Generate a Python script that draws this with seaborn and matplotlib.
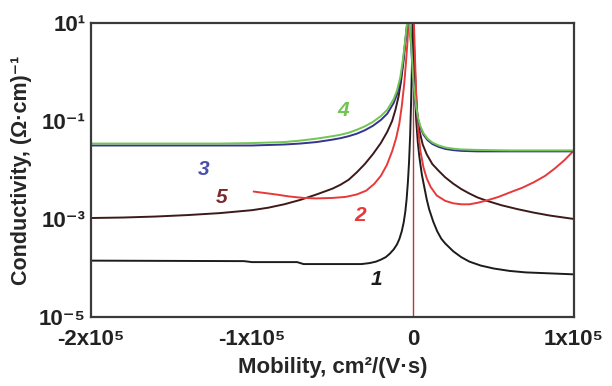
import numpy as np
import pandas as pd
import matplotlib
matplotlib.use("Agg")
import matplotlib.pyplot as plt
import matplotlib.ticker as mticker
import seaborn as sns

# mobility in units of 1e5 cm^2/(V s), conductivity as log10 exponent
mu_1 = [-2.0, -1.05, -1.0, -0.72, -0.68, -0.32, -0.27, -0.23, -0.2, -0.17, -0.145, -0.12, -0.1,
        -0.085, -0.07, -0.058, -0.048, -0.04, -0.032, -0.025, -0.018, -0.012, -0.007, -0.003,
        0.0, 0.006, 0.012, 0.02, 0.03, 0.04, 0.055, 0.07, 0.085, 0.1, 0.125, 0.15, 0.175, 0.2,
        0.25, 0.3, 0.35, 0.42, 0.5, 0.6, 0.7, 0.85, 1.0]
lg_1 = [-3.85, -3.86, -3.88, -3.88, -3.92, -3.92, -3.9, -3.87, -3.83, -3.78, -3.71, -3.62, -3.52,
        -3.41, -3.25, -3.07, -2.85, -2.6, -2.25, -1.85, -1.3, -0.6, 0.1, 1.05,
        1.05, 0.3, -0.4, -1.0, -1.45, -1.75, -2.1, -2.35, -2.6, -2.8, -3.05, -3.25, -3.4, -3.5,
        -3.66, -3.78, -3.87, -3.95, -4.01, -4.06, -4.09, -4.11, -4.13]

mu_2 = [-0.99, -0.92, -0.85, -0.77, -0.68, -0.6, -0.5, -0.42, -0.35, -0.29, -0.24, -0.2, -0.163,
        -0.13, -0.105, -0.085, -0.07, -0.055, -0.045, -0.035, -0.028,
        0.005, 0.012, 0.02, 0.03, 0.045, 0.065, 0.085, 0.11, 0.147, 0.2, 0.25, 0.3, 0.35, 0.4,
        0.46, 0.53, 0.6, 0.68, 0.75, 0.82, 0.88, 0.94, 1.0]
lg_2 = [-2.44, -2.47, -2.5, -2.54, -2.57, -2.58, -2.57, -2.55, -2.5, -2.42, -2.28, -2.12, -1.9,
        -1.62, -1.35, -1.05, -0.7, -0.25, 0.15, 0.6, 1.05,
        1.05, 0.3, -0.5, -1.1, -1.6, -1.95, -2.17, -2.35, -2.52, -2.63, -2.68, -2.7, -2.7, -2.67,
        -2.62, -2.55, -2.46, -2.36, -2.25, -2.12, -1.97, -1.8, -1.6]

mu_3 = [-2.0, -1.2, -1.0, -0.9, -0.8, -0.7, -0.6, -0.5, -0.45, -0.4, -0.35, -0.3, -0.25, -0.2,
        -0.16, -0.12, -0.1, -0.08, -0.065, -0.052, -0.042, -0.035, -0.025, -0.012, 0.0, 0.01,
        0.02, 0.03, 0.045, 0.065, 0.09, 0.12, 0.16, 0.2, 0.25, 0.3, 0.4, 0.6, 1.0]
lg_3 = [-1.5, -1.5, -1.5, -1.49, -1.48, -1.46, -1.43, -1.38, -1.35, -1.31, -1.26, -1.19, -1.1, -0.98,
        -0.85, -0.63, -0.46, -0.2, 0.12, 0.5, 0.82, 1.05, 1.05, 0.55, -0.15, -0.5,
        -0.77, -0.96, -1.13, -1.28, -1.39, -1.47, -1.53, -1.57, -1.595, -1.61, -1.62, -1.62, -1.62]

mu_4 = [-2.0, -1.2, -1.0, -0.9, -0.8, -0.7, -0.6, -0.5, -0.45, -0.4, -0.35, -0.3, -0.25, -0.2,
        -0.16, -0.12, -0.1, -0.08, -0.065, -0.052, -0.042, -0.035, -0.025, -0.012, 0.0, 0.01,
        0.02, 0.03, 0.045, 0.065, 0.09, 0.12, 0.16, 0.2, 0.25, 0.3, 0.4, 0.6, 1.0]
lg_4 = [-1.46, -1.46, -1.45, -1.44, -1.43, -1.4, -1.36, -1.31, -1.28, -1.24, -1.18, -1.11, -1.02, -0.9,
        -0.77, -0.55, -0.38, -0.12, 0.2, 0.55, 0.85, 1.05, 1.05, 0.6, -0.1, -0.45,
        -0.72, -0.92, -1.1, -1.25, -1.36, -1.44, -1.5, -1.54, -1.565, -1.58, -1.59, -1.6, -1.6]

mu_5 = [-2.0, -1.8, -1.6, -1.4, -1.2, -1.1, -1.0, -0.9, -0.8, -0.7, -0.6, -0.5, -0.45, -0.4, -0.35,
        -0.3, -0.25, -0.2, -0.16, -0.13, -0.11, -0.09, -0.075, -0.06, -0.05, -0.04, -0.032,
        0.0, 0.008, 0.016, 0.025, 0.04, 0.06, 0.085, 0.12, 0.16, 0.2, 0.25, 0.3, 0.35, 0.4,
        0.46, 0.55, 0.65, 0.75, 0.85, 1.0]
lg_5 = [-2.98, -2.97, -2.95, -2.92, -2.88, -2.85, -2.82, -2.77, -2.7, -2.61, -2.5, -2.38, -2.3, -2.2, -2.05,
        -1.88, -1.68, -1.45, -1.22, -1.0, -0.78, -0.5, -0.2, 0.2, 0.55, 0.85, 1.05,
        1.05, 0.4, -0.3, -0.8, -1.2, -1.48, -1.68, -1.88, -2.02, -2.15, -2.28, -2.39, -2.48, -2.56,
        -2.63, -2.72, -2.8, -2.87, -2.93, -3.0]

curve_ids = ["1", "2", "3", "4", "5"]
curve_colors = ["#1c1c1c", "#e8393a", "#34358f", "#72c453", "#3c1a1a"]
label_colors = ["#1c1c1c", "#e8393a", "#4a4fae", "#72c453", "#7a2a2a"]
# label anchor points (mobility 1e5, log10 conductivity)
label_mu = [-0.226, -0.33, -1.3, -0.435, -1.19]
label_lg = [-4.24, -2.92, -2.0, -0.78, -2.57]

x_ticks = [-2e5, -1e5, 0, 1e5]
x_tick_labels = ["-2x10⁵", "-1x10⁵", "0", "1x10⁵"]
y_tick_labels = {1: "10¹", -1: "10⁻¹", -3: "10⁻³", -5: "10⁻⁵"}

sns.set_style("white")
plt.rcParams["font.family"] = ["Liberation Sans", "DejaVu Sans"]
plt.rcParams["font.weight"] = "bold"

frames = []
for cid, mu, lg in zip(curve_ids, [mu_1, mu_2, mu_3, mu_4, mu_5], [lg_1, lg_2, lg_3, lg_4, lg_5]):
    frames.append(pd.DataFrame({"curve": cid, "mobility": np.array(mu) * 1e5,
                                "sigma": 10.0 ** np.array(lg)}))
df = pd.concat(frames, ignore_index=True)

fig = plt.figure(figsize=(6.12, 3.86), dpi=100)
ax = fig.add_axes([0.1487, 0.1788, 0.7893, 0.7616])

ax.axvline(0, color="#b43a3a", lw=1.0, zorder=1)
draw_order = ["1", "5", "2", "3", "4"]
for cid in draw_order:
    sub = df[df.curve == cid]
    sns.lineplot(data=sub, x="mobility", y="sigma", ax=ax, color=curve_colors[curve_ids.index(cid)],
                 lw=1.4, sort=False, estimator=None, legend=False)

ax.set_yscale("log")
ax.set_xlim(-2e5, 1e5)
ax.set_ylim(1e-5, 1e1)

ax.set_xticks(x_ticks)
ax.set_xticklabels(x_tick_labels)
ax.xaxis.set_minor_locator(mticker.MultipleLocator(1e4))
ax.yaxis.set_major_locator(mticker.LogLocator(base=10, numticks=10))
ax.yaxis.set_minor_locator(mticker.LogLocator(base=10, subs=np.arange(2, 10), numticks=20))
ax.yaxis.set_major_formatter(mticker.FuncFormatter(
    lambda v, p: y_tick_labels.get(int(round(np.log10(v))), "")))
ax.yaxis.set_minor_formatter(mticker.NullFormatter())
ax.tick_params(which="both", direction="in", top=False, right=False, colors="#333333",
               labelcolor="#222222", labelsize=16)
ax.tick_params(axis="x", which="major", pad=9)
ax.tick_params(axis="y", which="major", pad=4)
ax.tick_params(which="major", length=7, width=1.2)
ax.tick_params(which="minor", length=4, width=1.0)

for s in ax.spines.values():
    s.set_color("#3a3a3a")
    s.set_linewidth(1.6)

ax.set_xlabel("Mobility, cm²/(V·s)", fontsize=16, fontweight="bold", labelpad=5)
ax.set_ylabel("Conductivity, (Ω·cm)⁻¹", fontsize=15.5, fontweight="bold", labelpad=5)

for cid, lx, ly, lc in zip(curve_ids, label_mu, label_lg, label_colors):
    ax.text(lx * 1e5, 10.0 ** ly, cid, color=lc, fontsize=15, fontweight="bold",
            fontstyle="italic", ha="center", va="center")

fig.savefig("out.png", dpi=100)
